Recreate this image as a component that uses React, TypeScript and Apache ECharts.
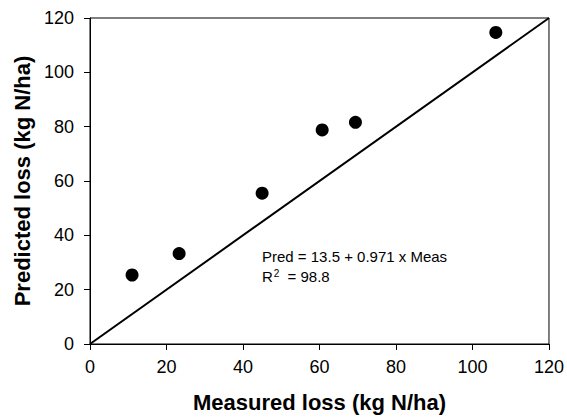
import React, { useEffect, useRef } from "react";
import * as echarts from "echarts";

const measured = [11.0, 23.3, 45.0, 60.7, 69.4, 106.1];
const predicted = [25.4, 33.3, 55.5, 78.8, 81.6, 114.7];
const oneToOne = [[0, 0], [120, 120]];
const xTitle = "Measured loss (kg N/ha)";
const yTitle = "Predicted loss (kg N/ha)";
const eqText = "Pred = 13.5 + 0.971 x Meas";

export default function App() {
  const ref = useRef<HTMLDivElement>(null);
  useEffect(() => {
    document.body.style.margin = "0";
    const chart = echarts.init(ref.current!, null, { renderer: "svg" });
    const font = "'Liberation Sans', Arial, sans-serif";
    chart.setOption({
      animation: false,
      backgroundColor: "#fff",
      grid: {
        left: 90, right: 18, top: 18, bottom: 70,
        show: true, borderColor: "#000", borderWidth: 1, backgroundColor: "transparent",
      },
      xAxis: {
        type: "value", min: 0, max: 120, interval: 20,
        name: xTitle, nameLocation: "middle", nameGap: 47,
        nameTextStyle: { fontFamily: font, fontSize: 22, fontWeight: "bold", color: "#000" },
        axisLine: { show: true, onZero: false, lineStyle: { color: "#000", width: 1 } },
        axisTick: { show: true, inside: false, length: 6, lineStyle: { color: "#000" } },
        axisLabel: { fontFamily: font, fontSize: 18, color: "#000", margin: 14 },
        splitLine: { show: false },
      },
      yAxis: {
        type: "value", min: 0, max: 120, interval: 20,
        name: yTitle, nameLocation: "middle", nameGap: 57,
        nameTextStyle: { fontFamily: font, fontSize: 22, fontWeight: "bold", color: "#000" },
        axisLine: { show: true, onZero: false, lineStyle: { color: "#000", width: 1 } },
        axisTick: { show: true, inside: false, length: 6, lineStyle: { color: "#000" } },
        axisLabel: { fontFamily: font, fontSize: 18, color: "#000", margin: 16 },
        splitLine: { show: false },
      },
      series: [
        {
          type: "line",
          data: oneToOne,
          symbol: "none",
          lineStyle: { color: "#000", width: 2 },
          silent: true,
        },
        {
          type: "scatter",
          data: measured.map((m, i) => [m, predicted[i]]),
          symbol: "circle",
          symbolSize: 13,
          itemStyle: { color: "#000", opacity: 1 },
        },
      ],
      graphic: [
        {
          type: "text", left: 262, top: 249,
          style: { text: eqText, font: `15px ${font}`, fill: "#000" },
        },
        {
          type: "text", left: 262, top: 268,
          style: {
            text: "R{sup|2} = 98.8",
            font: `15px ${font}`, fill: "#000",
            rich: { sup: { fontSize: 10, verticalAlign: "top", padding: [0, 4, 6, 1], fontFamily: font } },
          },
        },
      ],
    });
    return () => chart.dispose();
  }, []);
  return <div ref={ref} style={{ width: 567, height: 418 }} />;
}
